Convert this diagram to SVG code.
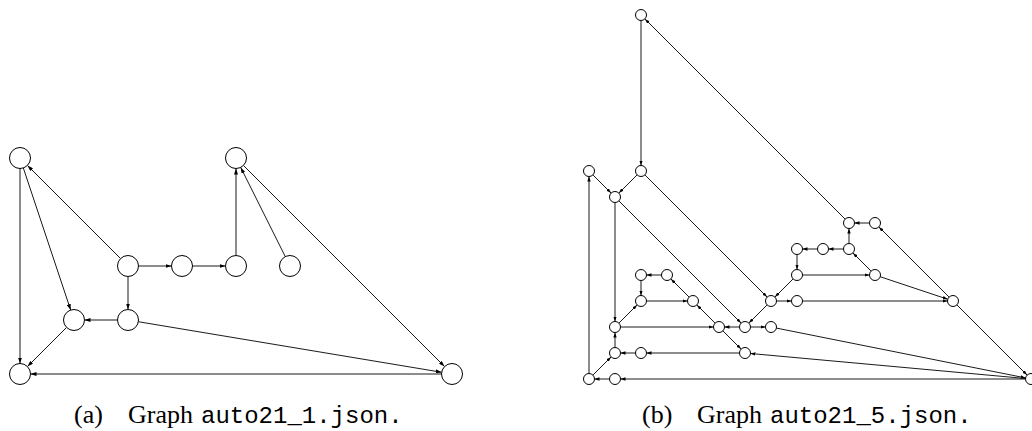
<svg xmlns="http://www.w3.org/2000/svg" width="1032" height="431" viewBox="0 0 1032 431">
<style>
.n{fill:#fff;stroke:#000;stroke-width:1}
.e{stroke:#000;stroke-width:0.9;fill:none}
.ea{marker-end:url(#ahA)}
.eb{marker-end:url(#ahB)}
.cap{font-family:"Liberation Serif",serif;font-size:26px;fill:#000}
.tt{font-family:"Liberation Mono",monospace;font-size:24px}
</style>
<defs>
<marker id="ahA" viewBox="0 0 6 4" refX="6" refY="2" markerWidth="6" markerHeight="4" orient="auto" markerUnits="userSpaceOnUse"><path d="M0,0 L6,2 L0,4 z" fill="#000"/></marker>
<marker id="ahB" viewBox="0 0 5 3.4" refX="5" refY="1.7" markerWidth="5" markerHeight="3.4" orient="auto" markerUnits="userSpaceOnUse"><path d="M0,0 L5,1.7 L0,3.4 z" fill="#000"/></marker>
</defs>
<g id="edges-a">
<line class="e ea" x1="20" y1="168.5" x2="20" y2="363.5"/>
<line class="e ea" x1="23.32" y1="167.96" x2="70.68" y2="310.04"/>
<line class="e ea" x1="120.58" y1="258.58" x2="27.42" y2="165.42"/>
<line class="e ea" x1="138.5" y1="266" x2="171.5" y2="266"/>
<line class="e ea" x1="192.5" y1="266" x2="225.5" y2="266"/>
<line class="e ea" x1="236" y1="255.5" x2="236" y2="168.5"/>
<line class="e ea" x1="128" y1="276.5" x2="128" y2="309.5"/>
<line class="e ea" x1="117.5" y1="320" x2="84.5" y2="320"/>
<line class="e ea" x1="66.58" y1="327.42" x2="27.42" y2="366.58"/>
<line class="e ea" x1="285.3" y1="256.61" x2="240.7" y2="167.39"/>
<line class="e ea" x1="243.42" y1="165.42" x2="444.58" y2="366.58"/>
<line class="e ea" x1="138.36" y1="321.73" x2="441.64" y2="372.27"/>
<line class="e ea" x1="441.5" y1="374" x2="30.5" y2="374"/>
</g>
<g id="nodes-a">
<circle id="a-A" class="n" cx="20" cy="158" r="10.5"/>
<circle id="a-B" class="n" cx="128" cy="266" r="10.5"/>
<circle id="a-C" class="n" cx="182" cy="266" r="10.5"/>
<circle id="a-D" class="n" cx="236" cy="266" r="10.5"/>
<circle id="a-E" class="n" cx="236" cy="158" r="10.5"/>
<circle id="a-F" class="n" cx="128" cy="320" r="10.5"/>
<circle id="a-G" class="n" cx="74" cy="320" r="10.5"/>
<circle id="a-H" class="n" cx="20" cy="374" r="10.5"/>
<circle id="a-I" class="n" cx="290" cy="266" r="10.5"/>
<circle id="a-J" class="n" cx="452" cy="374" r="10.5"/>
</g>
<g id="edges-b">
<line class="e eb" x1="641" y1="20.5" x2="641" y2="165.5"/>
<line class="e eb" x1="845.11" y1="219.11" x2="644.89" y2="18.89"/>
<line class="e eb" x1="637.11" y1="174.89" x2="618.89" y2="193.11"/>
<line class="e eb" x1="592.89" y1="174.89" x2="611.11" y2="193.11"/>
<line class="e eb" x1="644.89" y1="174.89" x2="767.11" y2="297.11"/>
<line class="e eb" x1="615" y1="202.5" x2="615" y2="321.5"/>
<line class="e eb" x1="618.89" y1="200.89" x2="741.11" y2="323.11"/>
<line class="e eb" x1="589" y1="373.5" x2="589" y2="176.5"/>
<line class="e eb" x1="592.89" y1="375.11" x2="611.11" y2="356.89"/>
<line class="e eb" x1="609.5" y1="379" x2="594.5" y2="379"/>
<line class="e eb" x1="615" y1="347.5" x2="615" y2="332.5"/>
<line class="e eb" x1="635.5" y1="353" x2="620.5" y2="353"/>
<line class="e eb" x1="618.89" y1="323.11" x2="637.11" y2="304.89"/>
<line class="e eb" x1="620.5" y1="327" x2="713.5" y2="327"/>
<line class="e eb" x1="641" y1="280.5" x2="641" y2="295.5"/>
<line class="e eb" x1="661.5" y1="275" x2="646.5" y2="275"/>
<line class="e eb" x1="646.5" y1="301" x2="687.5" y2="301"/>
<line class="e eb" x1="689.11" y1="297.11" x2="670.89" y2="278.89"/>
<line class="e eb" x1="715.11" y1="323.11" x2="696.89" y2="304.89"/>
<line class="e eb" x1="722.89" y1="330.89" x2="741.11" y2="349.11"/>
<line class="e eb" x1="739.5" y1="327" x2="724.5" y2="327"/>
<line class="e eb" x1="750.5" y1="327" x2="765.5" y2="327"/>
<line class="e eb" x1="767.11" y1="304.89" x2="748.89" y2="323.11"/>
<line class="e eb" x1="776.5" y1="301" x2="791.5" y2="301"/>
<line class="e eb" x1="802.5" y1="301" x2="947.5" y2="301"/>
<line class="e eb" x1="1025.52" y1="378.5" x2="750.48" y2="353.5"/>
<line class="e eb" x1="739.5" y1="353" x2="646.5" y2="353"/>
<line class="e eb" x1="776.39" y1="328.08" x2="1025.61" y2="377.92"/>
<line class="e eb" x1="1025.5" y1="379" x2="620.5" y2="379"/>
<line class="e eb" x1="956.89" y1="304.89" x2="1027.11" y2="375.11"/>
<line class="e eb" x1="949.11" y1="297.11" x2="878.89" y2="226.89"/>
<line class="e eb" x1="880.22" y1="276.74" x2="947.78" y2="299.26"/>
<line class="e eb" x1="802.5" y1="275" x2="869.5" y2="275"/>
<line class="e eb" x1="871.11" y1="271.11" x2="852.89" y2="252.89"/>
<line class="e eb" x1="849" y1="243.5" x2="849" y2="228.5"/>
<line class="e eb" x1="869.5" y1="223" x2="854.5" y2="223"/>
<line class="e eb" x1="843.5" y1="249" x2="828.5" y2="249"/>
<line class="e eb" x1="817.5" y1="249" x2="802.5" y2="249"/>
<line class="e eb" x1="797" y1="254.5" x2="797" y2="269.5"/>
<line class="e eb" x1="793.11" y1="278.89" x2="774.89" y2="297.11"/>
</g>
<g id="nodes-b">
<circle id="b-T" class="n" cx="641" cy="15" r="5.5"/>
<circle id="b-a" class="n" cx="589" cy="171" r="5.5"/>
<circle id="b-b" class="n" cx="641" cy="171" r="5.5"/>
<circle id="b-c" class="n" cx="615" cy="197" r="5.5"/>
<circle id="b-d" class="n" cx="641" cy="275" r="5.5"/>
<circle id="b-e" class="n" cx="667" cy="275" r="5.5"/>
<circle id="b-f" class="n" cx="641" cy="301" r="5.5"/>
<circle id="b-g" class="n" cx="693" cy="301" r="5.5"/>
<circle id="b-h" class="n" cx="615" cy="327" r="5.5"/>
<circle id="b-i" class="n" cx="719" cy="327" r="5.5"/>
<circle id="b-j" class="n" cx="745" cy="327" r="5.5"/>
<circle id="b-k" class="n" cx="771" cy="327" r="5.5"/>
<circle id="b-l" class="n" cx="771" cy="301" r="5.5"/>
<circle id="b-m" class="n" cx="615" cy="353" r="5.5"/>
<circle id="b-n" class="n" cx="641" cy="353" r="5.5"/>
<circle id="b-o" class="n" cx="745" cy="353" r="5.5"/>
<circle id="b-p" class="n" cx="589" cy="379" r="5.5"/>
<circle id="b-q" class="n" cx="615" cy="379" r="5.5"/>
<circle id="b-r" class="n" cx="849" cy="223" r="5.5"/>
<circle id="b-s" class="n" cx="875" cy="223" r="5.5"/>
<circle id="b-t" class="n" cx="797" cy="249" r="5.5"/>
<circle id="b-u" class="n" cx="823" cy="249" r="5.5"/>
<circle id="b-v" class="n" cx="849" cy="249" r="5.5"/>
<circle id="b-w" class="n" cx="797" cy="275" r="5.5"/>
<circle id="b-x" class="n" cx="875" cy="275" r="5.5"/>
<circle id="b-y" class="n" cx="797" cy="301" r="5.5"/>
<circle id="b-z" class="n" cx="953" cy="301" r="5.5"/>
<circle id="b-Z" class="n" cx="1031" cy="379" r="5.5"/>
</g>
<g id="captions">
<text class="cap" y="423"><tspan x="74">(a)</tspan><tspan x="128">Graph</tspan><tspan class="tt" x="201">auto21_1.json.</tspan></text>
<text class="cap" y="423"><tspan x="642">(b)</tspan><tspan x="697">Graph</tspan><tspan class="tt" x="770">auto21_5.json.</tspan></text>
</g>
</svg>
